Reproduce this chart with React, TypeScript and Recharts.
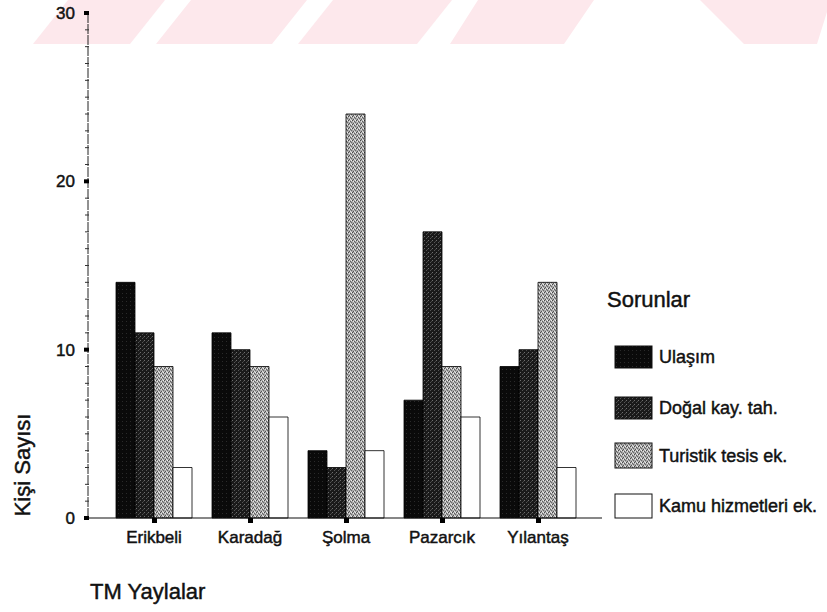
import React from "react"
import { BarChart, Bar, XAxis, YAxis } from "recharts"

const villages = ["Erikbeli", "Karadağ", "Şolma", "Pazarcık", "Yılantaş"]
const ulasim = [14, 11, 4, 7, 9]
const dogal = [11, 10, 3, 17, 10]
const turistik = [9, 9, 24, 9, 14]
const kamu = [3, 6, 4, 6, 3]

const seriesKeys = ["ulasim", "dogal", "turistik", "kamu"]
const seriesNames = ["Ulaşım", "Doğal kay. tah.", "Turistik tesis ek.", "Kamu hizmetleri ek."]
const seriesFills = ["url(#pUlasim)", "url(#pDogal)", "url(#pTuristik)", "#ffffff"]

const yTicks = Array.from({ length: 31 }, (_, i) => i)

const data = villages.map((name, i) => ({
  name,
  ulasim: ulasim[i],
  dogal: dogal[i],
  turistik: turistik[i],
  kamu: kamu[i],
}))

const FONT = "'Liberation Sans', Arial, sans-serif"
// scanned print looks heavier than plain regular weight
const INK = { fill: "#111", stroke: "#111", strokeWidth: 0.45 }

function YTick(props: any) {
  const { x, y, payload } = props
  const v = payload.value
  if (v % 10 === 0) {
    return (
      <g>
        <rect x={x - 4} y={y - 2} width={5} height={4} fill="#000" />
        <text x={x - 13} y={y} dy={6} textAnchor="end" fontSize={17} fontFamily={FONT} {...INK}>{v}</text>
      </g>
    )
  }
  return <line x1={x - 3} x2={x + 1} y1={y} y2={y} stroke="#333" strokeWidth={1} />
}

function XTick(props: any) {
  const { x, y, payload } = props
  return (
    <g>
      <rect x={x - 2} y={y} width={5} height={5} fill="#000" />
      <text x={x} y={y + 25} textAnchor="middle" fontSize={17} fontFamily={FONT} {...INK}>{payload.value}</text>
    </g>
  )
}

function Watermark() {
  const polys = [
    "33,44 130,44 165,0 68,0",
    "156,44 272,44 307,0 191,0",
    "298,44 417,44 452,0 333,0",
    "450,44 564,44 594,0 478,0",
    "700,0 827,0 827,12 817,44 744,44",
  ]
  return (
    <svg width={827} height={60} style={{ position: "absolute", left: 0, top: 0 }}>
      {polys.map((p, i) => <polygon key={i} points={p} fill="#fde8ec" />)}
    </svg>
  )
}

function Patterns() {
  return (
    <svg width={0} height={0} style={{ position: "absolute" }}>
      <defs>
        <pattern id="pUlasim" width={4} height={4} patternUnits="userSpaceOnUse">
          <rect width={4} height={4} fill="#0a0a0a" />
          <rect x={2} y={1} width={1} height={1} fill="#2a2a2a" />
        </pattern>
        <pattern id="pDogal" width={4} height={4} patternUnits="userSpaceOnUse">
          <rect width={4} height={4} fill="#1a1a1a" />
          <rect x={0} y={0} width={1} height={1} fill="#6e6e6e" />
          <rect x={2} y={2} width={1} height={1} fill="#555" />
          <rect x={3} y={1} width={1} height={1} fill="#444" />
        </pattern>
        <pattern id="pTuristik" width={4} height={4} patternUnits="userSpaceOnUse">
          <rect width={4} height={4} fill="#ababab" />
          <rect x={0} y={0} width={1} height={1} fill="#4a4a4a" />
          <rect x={2} y={1} width={1} height={1} fill="#5c5c5c" />
          <rect x={1} y={3} width={1} height={1} fill="#555" />
          <rect x={3} y={2} width={1} height={1} fill="#666" />
          <rect x={1} y={1} width={1} height={1} fill="#e8e8e8" />
          <rect x={3} y={0} width={1} height={1} fill="#eee" />
          <rect x={2} y={3} width={1} height={1} fill="#e0e0e0" />
        </pattern>
      </defs>
    </svg>
  )
}

function Legend() {
  const tops = [346, 397, 443, 494]
  const heights = [22, 22, 25, 24]
  const ink = { WebkitTextStroke: "0.45px #111" } as React.CSSProperties
  return (
    <div style={{ position: "absolute", left: 0, top: 0, fontFamily: FONT, color: "#111" }}>
      <div style={{ position: "absolute", left: 607, top: 287, fontSize: 22, whiteSpace: "nowrap", ...ink }}>Sorunlar</div>
      {seriesNames.map((n, i) => (
        <div key={n}>
          <svg width={40} height={heights[i] + 2} style={{ position: "absolute", left: 614, top: tops[i] - 1 }}>
            <rect x={1} y={1} width={37} height={heights[i]} fill={seriesFills[i]} stroke="#111" strokeWidth={1} />
          </svg>
          <div style={{ position: "absolute", left: 659, top: tops[i] + heights[i] / 2 - 11, fontSize: 18, lineHeight: "22px", whiteSpace: "nowrap", ...ink }}>{n}</div>
        </div>
      ))}
    </div>
  )
}

export default function App() {
  return (
    <div style={{ position: "absolute", left: 0, top: 0, width: 827, height: 612, background: "#fff", overflow: "hidden" }}>
      <Watermark />
      <Patterns />
      <div style={{ position: "absolute", left: 0, top: 0 }}>
        <BarChart
          width={827}
          height={612}
          data={data}
          margin={{ top: 13, right: 225, bottom: 64, left: 28 }}
          barCategoryGap={10}
          barGap={0}
        >
          <XAxis
            dataKey="name"
            height={30}
            padding={{ left: 18, right: 16 }}
            axisLine={{ stroke: "#111", strokeWidth: 1.2 }}
            tickLine={false}
            tickSize={0}
            tickMargin={0}
            tick={<XTick />}
            interval={0}
          />
          <XAxis xAxisId="top" orientation="top" dataKey="name" height={0} tick={false} tickLine={false}
            axisLine={{ stroke: "#222", strokeWidth: 1.2 }} />
          <YAxis
            domain={[0, 30]}
            ticks={yTicks}
            width={60}
            interval={0}
            axisLine={{ stroke: "#222", strokeWidth: 1, strokeDasharray: "10 1" }}
            tickLine={false}
            tickSize={0}
            tickMargin={0}
            tick={<YTick />}
          />
          <YAxis yAxisId="right" orientation="right" domain={[0, 30]} width={0} tick={false} tickLine={false}
            axisLine={{ stroke: "#333", strokeWidth: 1, strokeDasharray: "9 2" }} />
          {seriesKeys.map((k, i) => (
            <Bar key={k} dataKey={k} name={seriesNames[i]} fill={seriesFills[i]} stroke="#000" strokeWidth={0.8} isAnimationActive={false} />
          ))}
        </BarChart>
      </div>
      <svg width={827} height={612} style={{ position: "absolute", left: 0, top: 0, pointerEvents: "none" }}>
        <text x={90} y={599} fontSize={22} fontFamily={FONT} {...INK}>TM Yaylalar</text>
        <text transform="translate(30,465) rotate(-90)" textAnchor="middle" fontSize={22} fontFamily={FONT} {...INK}>Kişi Sayısı</text>
      </svg>
      <Legend />
    </div>
  )
}
